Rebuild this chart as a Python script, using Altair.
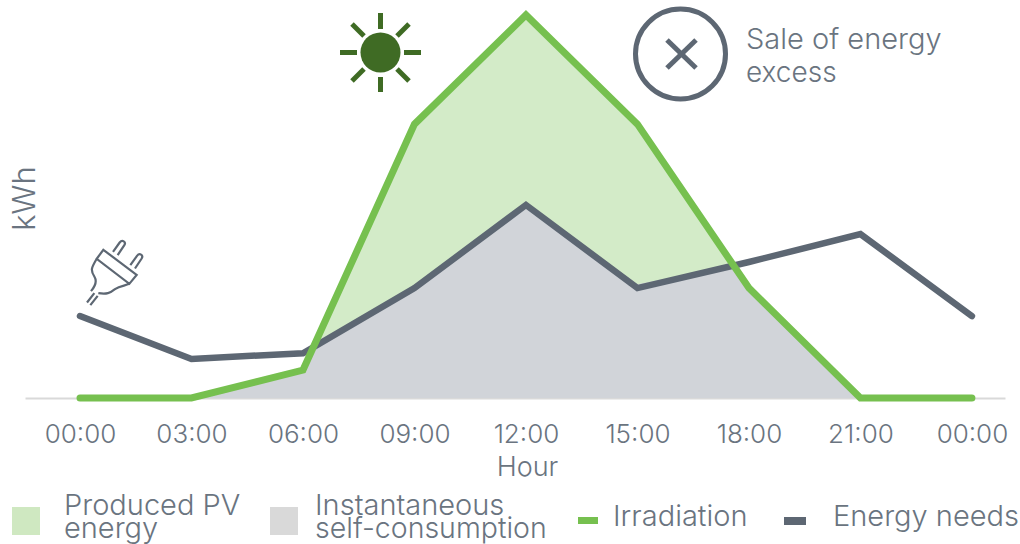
import json

import altair as alt
import pandas as pd

# Daily profile, three-hourly, in kWh
hours = [0, 3, 6, 9, 12, 15, 18, 21, 24]
irradiation = [0, 0, 0.73, 7.15, 10, 7.15, 2.87, 0, 0]
energy_needs = [2.14, 1.02, 1.17, 2.87, 5.04, 2.87, 3.55, 4.28, 2.14]

# Self-consumption follows the lower of both curves, with their two crossings
self_hours = [0, 3, 6, 6.28, 9, 12, 15, 17.59, 18, 21, 24]
self_consumption = [0, 0, 0.73, 1.33, 2.95, 5.04, 2.97, 3.46, 2.87, 0, 0]

tick_hours = [0, 3, 6, 9, 12, 15, 18, 21, 24]
tick_names = ["00:00", "03:00", "06:00", "09:00", "12:00", "15:00", "18:00", "21:00", "00:00"]

FONT = "Inter"
SLATE = "#5d6773"
TEXT = "#6a7480"
GREEN = "#76c04f"
SUN = "#3f6b24"

profile = pd.DataFrame({"hour": hours, "irradiation": irradiation, "needs": energy_needs})
shared = pd.DataFrame({"hour": self_hours, "self": self_consumption})

x_enc = alt.X(
    "hour:Q",
    scale=alt.Scale(domain=[-1.48, 24.89], range=[25, 1005]),
    axis=alt.Axis(
        values=tick_hours,
        labelExpr=f"{json.dumps(tick_names)}[indexof({json.dumps(tick_hours)}, datum.value)]",
        title="Hour",
        titleFont=FONT, titleFontSize=27, titleFontWeight=300, titleColor=TEXT,
        titlePadding=7, titleX=527,
        labelFont=FONT, labelFontSize=26, labelFontWeight=300, labelColor=TEXT,
        labelPadding=23, labelFlush=False, labelOverlap=False,
        ticks=False, grid=False,
        domainColor="#d9d9d9", domainWidth=2,
    ),
)
y_scale = alt.Scale(domain=[0, 10], range=[398, 15])


def y_enc(field):
    return alt.Y(
        f"{field}:Q",
        scale=y_scale,
        axis=alt.Axis(
            title="kWh", labels=False, ticks=False, domain=False, grid=False,
            titleFont=FONT, titleFontSize=31, titleFontWeight=300, titleColor=TEXT,
            titleX=41, titleY=198,
        ),
    )


layers = [
    alt.Chart(profile).mark_area(color="#d3ebc8", opacity=1).encode(x=x_enc, y=y_enc("irradiation")),
    alt.Chart(shared).mark_area(color="#d1d4d9", opacity=1).encode(x=x_enc, y=y_enc("self")),
    alt.Chart(profile).mark_line(color=SLATE, strokeWidth=6.5, strokeCap="round", strokeJoin="miter").encode(x=x_enc, y=y_enc("needs")),
    alt.Chart(profile).mark_line(color=GREEN, strokeWidth=7, strokeCap="round", strokeJoin="miter").encode(x=x_enc, y=y_enc("irradiation")),
]


def segment(x1, y1, x2, y2, color, width):
    return alt.Chart().mark_rule(color=color, strokeWidth=width).encode(
        x=alt.value(x1), x2=alt.value(x2), y=alt.value(y1), y2=alt.value(y2)
    )


def label(text, x, y, size=29):
    return alt.Chart().mark_text(
        text=text, align="left", baseline="alphabetic", font=FONT,
        fontSize=size, fontWeight=300, color=TEXT,
    ).encode(x=alt.value(x), y=alt.value(y))


def swatch(x1, y1, x2, y2, color):
    return alt.Chart().mark_rect(color=color).encode(
        x=alt.value(x1), x2=alt.value(x2), y=alt.value(y1), y2=alt.value(y2)
    )


# Sun symbol
layers.append(alt.Chart().mark_point(filled=True, color=SUN, opacity=1, size=1600, shape="circle").encode(x=alt.value(380.5), y=alt.value(52.5)))
for a, b, c, d in [
    (380.5, 13, 380.5, 29), (380.5, 77, 380.5, 92), (340, 52.5, 357, 52.5), (404, 52.5, 421, 52.5),
    (397, 36, 409, 24), (352, 24, 364, 36), (352, 81, 364, 69), (397, 69, 409, 81),
]:
    layers.append(segment(a, b, c, d, SUN, 5))

# Crossed ring with its caption
layers.append(alt.Chart().mark_point(filled=False, color=SLATE, opacity=1, strokeWidth=5, size=8100, shape="circle").encode(x=alt.value(680.5), y=alt.value(54)))
layers.append(segment(667, 40, 696, 68, SLATE, 5))
layers.append(segment(696, 40, 667, 68, SLATE, 5))
layers.append(label("Sale of energy", 746, 49))
layers.append(label("excess", 746, 82, 28))

# Plug symbol drawn as a single outline
PLUG = (
    "M-35,-68 L65,7 L43,34 L-55,-41 Z "
    "M-55,-41 C-70,-15 -75,-8 -62,12 C-52,28 -60,42 -72,56 "
    "M43,34 C30,40 15,40 0,50 C-15,62 -25,66 -50,62 "
    "M-62,62 L-84,90 M-52,70 L-74,98 "
    "M-6,-62 L14,-90 C22,-100 34,-92 28,-82 L8,-52 "
    "M46,-22 L66,-50 C74,-60 86,-52 80,-42 L60,-12"
)
layers.append(alt.Chart().mark_point(shape=PLUG, filled=False, color=SLATE, opacity=1, strokeWidth=2.2, size=0.444).encode(x=alt.value(115), y=alt.value(272.5)))

# Legend row
layers.append(swatch(12, 507, 40, 535, "#cfe8c1"))
layers.append(label("Produced PV", 64, 515))
layers.append(label("energy", 64, 538))
layers.append(swatch(270, 507, 298, 535, "#d9d9d9"))
layers.append(label("Instantaneous", 315, 515))
layers.append(label("self-consumption", 315, 538, 28.5))
layers.append(swatch(578, 517, 598, 524, GREEN))
layers.append(label("Irradiation", 613, 526))
layers.append(swatch(784, 517, 806, 525, SLATE))
layers.append(label("Energy needs", 833, 526))

chart = (
    alt.layer(*layers)
    .properties(
        width=1020, height=398,
        padding={"left": 0, "right": 0, "top": 0, "bottom": 146},
        autosize=alt.AutoSizeParams(type="none"),
        background="white",
    )
    .configure_view(stroke=None)
)

chart.save("out.html", embed_options={"renderer": "svg", "actions": False})
